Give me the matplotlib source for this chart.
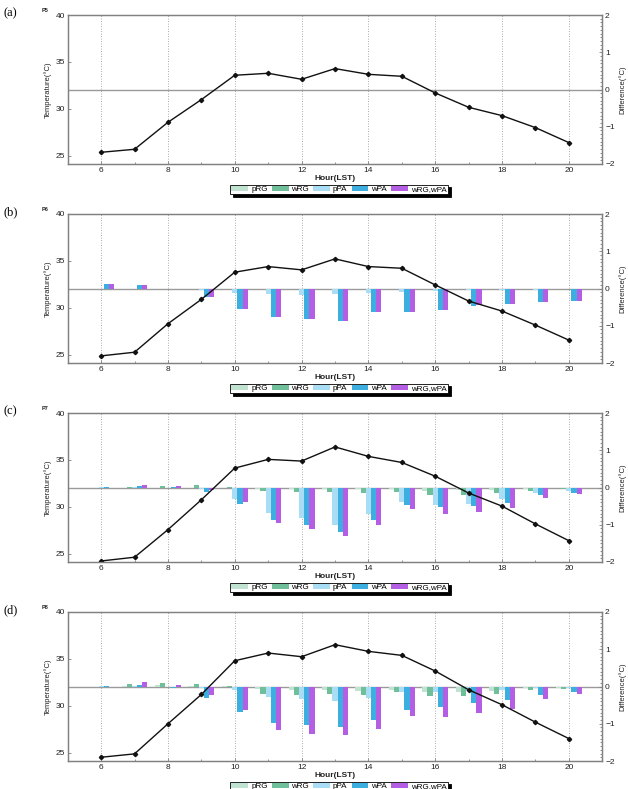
import matplotlib
matplotlib.use('Agg')
import matplotlib.pyplot as plt
from matplotlib.ticker import MultipleLocator
import numpy as np

plt.rcParams['font.family'] = ['Liberation Sans', 'DejaVu Sans']

hours = list(range(6, 21))
series_names = ['pRG', 'wRG', 'pPA', 'wPA', 'wRG,wPA']
series_colors = ['#bfe3d0', '#6fbf9b', '#a9ddf5', '#3daee0', '#b45fe3']

# temperature curves (left axis)
temp_p5 = [25.35, 25.67, 28.55, 30.97, 33.57, 33.78, 33.14, 34.28, 33.67, 33.46, 31.68, 30.15, 29.26, 27.98, 26.38]
temp_p6 = [24.86, 25.25, 28.29, 30.89, 33.79, 34.39, 34.04, 35.21, 34.39, 34.21, 32.43, 30.71, 29.64, 28.14, 26.54]
temp_p7 = [24.21, 24.61, 27.55, 30.74, 34.12, 35.05, 34.87, 36.38, 35.37, 34.72, 33.25, 31.46, 30.06, 28.16, 26.37]
temp_p8 = [24.50, 24.86, 28.07, 31.20, 34.80, 35.62, 35.23, 36.51, 35.80, 35.37, 33.70, 31.70, 30.10, 28.24, 26.49]

# differences (right axis)
p5_prg = [0, 0, 0, 0, 0, 0, 0, 0, 0, 0, 0, 0, 0, 0, 0]
p5_wrg = [0, 0, 0, 0, 0, 0, 0, 0, 0, 0, 0, 0, 0, 0, 0]
p5_ppa = [0, 0, 0, 0, -0.01, -0.01, -0.01, -0.01, -0.01, -0.01, -0.01, -0.01, -0.01, 0, 0]
p5_wpa = [0, 0, 0, 0, -0.02, -0.02, -0.02, -0.02, -0.02, -0.02, -0.02, -0.02, -0.01, 0, 0]
p5_both = [0, 0, 0, 0, -0.02, -0.02, -0.02, -0.02, -0.02, -0.02, -0.02, -0.02, -0.01, 0, 0]

p6_prg = [0, 0, 0, 0, -0.01, -0.01, -0.01, -0.01, -0.01, -0.01, -0.01, -0.01, -0.01, 0, 0]
p6_wrg = [0, 0, 0, 0, 0, 0, 0, 0, 0, 0, 0, 0, 0, 0, 0]
p6_ppa = [0.0, 0.0, 0.0, -0.03, -0.13, -0.15, -0.17, -0.15, -0.11, -0.09, -0.07, -0.05, -0.04, -0.03, -0.02]
p6_wpa = [0.11, 0.09, -0.02, -0.24, -0.56, -0.77, -0.82, -0.86, -0.63, -0.63, -0.57, -0.47, -0.42, -0.35, -0.33]
p6_both = [0.11, 0.09, -0.01, -0.24, -0.56, -0.77, -0.82, -0.86, -0.63, -0.63, -0.57, -0.43, -0.42, -0.35, -0.33]

p7_prg = [0, 0, 0, 0, 0, -0.04, -0.04, -0.04, -0.04, -0.04, -0.09, -0.08, -0.08, -0.03, -0.02]
p7_wrg = [0, 0.02, 0.03, 0.06, 0.01, -0.09, -0.13, -0.13, -0.15, -0.12, -0.20, -0.20, -0.16, -0.09, -0.05]
p7_ppa = [0.01, 0.02, 0.0, -0.03, -0.31, -0.68, -0.81, -1.01, -0.71, -0.39, -0.47, -0.43, -0.32, -0.14, -0.09]
p7_wpa = [0.01, 0.03, 0.01, -0.12, -0.44, -0.88, -1.01, -1.20, -0.86, -0.48, -0.53, -0.50, -0.41, -0.20, -0.14]
p7_both = [0.0, 0.07, 0.05, -0.08, -0.40, -0.95, -1.12, -1.31, -1.01, -0.59, -0.72, -0.67, -0.56, -0.27, -0.18]

p8_prg = [0, 0.01, 0.03, 0.02, 0.01, -0.07, -0.10, -0.10, -0.11, -0.09, -0.15, -0.14, -0.11, -0.05, -0.03]
p8_wrg = [0, 0.07, 0.10, 0.08, 0.01, -0.19, -0.24, -0.20, -0.24, -0.16, -0.26, -0.25, -0.21, -0.10, -0.07]
p8_ppa = [0.01, 0.02, 0.0, -0.03, -0.10, -0.28, -0.33, -0.38, -0.31, -0.16, -0.14, -0.12, -0.10, -0.05, -0.03]
p8_wpa = [0.01, 0.04, -0.03, -0.31, -0.68, -0.99, -1.03, -1.08, -0.90, -0.63, -0.55, -0.45, -0.37, -0.22, -0.16]
p8_both = [0.0, 0.13, 0.05, -0.23, -0.63, -1.18, -1.28, -1.29, -1.15, -0.79, -0.82, -0.71, -0.61, -0.33, -0.21]

panels = [
    ('(a)', 'P5', temp_p5, [p5_prg, p5_wrg, p5_ppa, p5_wpa, p5_both]),
    ('(b)', 'P6', temp_p6, [p6_prg, p6_wrg, p6_ppa, p6_wpa, p6_both]),
    ('(c)', 'P7', temp_p7, [p7_prg, p7_wrg, p7_ppa, p7_wpa, p7_both]),
    ('(d)', 'P8', temp_p8, [p8_prg, p8_wrg, p8_ppa, p8_wpa, p8_both]),
]

fig = plt.figure(figsize=(6.28, 7.89), dpi=100)

spine_c = '#808080'
txt_c = '#222222'
W = 789.0
bar_w = 0.155
x = np.array(hours)

for i, (tag, pname, temp, diffs) in enumerate(panels):
    top_px = 15 + 199 * i
    ax = fig.add_axes([0.1078, 1 - (top_px + 149) / W, 0.8513, 149 / W])
    ax2 = ax.twinx()

    # difference bars on the right axis
    handles = []
    for k, (vals, c) in enumerate(zip(diffs, series_colors)):
        h = ax2.bar(x + (k - 2) * bar_w, vals, width=bar_w, color=c,
                    edgecolor='none', label=series_names[k])
        handles.append(h)
    ax2.axhline(0, color='#9a9a9a', lw=1.0, zorder=0.5)
    for h in hours[::2]:
        ax2.axvline(h, color='#909090', lw=0.6, ls=(0, (1, 2)), zorder=0.4)
    ax2.set_ylim(-2, 2)
    ax2.yaxis.set_major_locator(MultipleLocator(1))
    ax2.yaxis.set_minor_locator(MultipleLocator(0.1))
    ax2.set_ylabel('Difference(°C)', fontsize=5.5, color=txt_c, labelpad=3)

    # temperature line on the left axis, drawn over the bars
    ax.plot(hours, temp, color='#111111', lw=1.0, marker='D', ms=2.2)
    ax.set_zorder(ax2.get_zorder() + 1)
    ax.patch.set_visible(False)
    ax.set_xlim(5, 21)
    ax.set_ylim(24.1, 40)
    ax.set_yticks([25, 30, 35, 40])
    ax.set_xticks(hours[::2])
    ax.set_xticks(hours[1::2], minor=True)
    ax.set_ylabel('Temperature(°C)', fontsize=5.5, color=txt_c, labelpad=3)
    ax.set_xlabel('Hour(LST)', fontsize=6, fontweight='bold', color=txt_c, labelpad=1)

    for a in (ax, ax2):
        a.tick_params(which='both', direction='in', length=2, width=0.6,
                      color=spine_c, labelsize=6, labelcolor=txt_c, pad=2)
        a.tick_params(which='minor', length=1.2)
        for s in a.spines.values():
            s.set_color(spine_c)
            s.set_linewidth(0.9)

    ax.text(-0.042, 1.027, pname, transform=ax.transAxes, fontsize=4,
            fontweight='bold', color=txt_c, ha='center', va='center')
    fig.text(0.017, 1 - (top_px - 2) / W, tag, fontsize=9,
             family='Liberation Serif', ha='center', va='center')

    leg = ax.legend(handles, series_names, loc='center', bbox_to_anchor=(0.5075, -0.171),
                    ncol=5, fontsize=5.8, frameon=True, fancybox=False,
                    edgecolor='black', framealpha=1,
                    shadow={'color': 'black', 'alpha': 1},
                    handlelength=2.1, handleheight=0.6, columnspacing=0.5,
                    handletextpad=0.35, borderpad=0.15, borderaxespad=0)
    leg.get_frame().set_linewidth(0.6)

fig.savefig('out.png', dpi=100)
